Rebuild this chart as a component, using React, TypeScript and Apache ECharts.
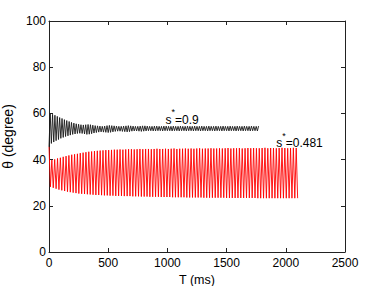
import React, { useEffect, useRef } from "react";
import * as echarts from "echarts";

// x-axis (T, ms) and y-axis (θ, degree) ticks
const xTicks = [0, 500, 1000, 1500, 2000, 2500];
const yTicks = [0, 20, 40, 60, 80, 100];

// s* = 0.9 (black): half-period sampling step (ms); troughs at even steps, peaks at odd steps
const blackStepMs = 10;
const blackTroughs = [
  45.5, 47.0, 47.6, 48.2, 48.7, 49.2, 49.6, 50.0, 50.3, 50.6,
  50.9, 51.1, 51.3, 51.4, 51.3, 51.1, 50.9, 51.0, 51.2, 51.5,
  51.7, 51.9, 52.0, 51.9, 51.8, 51.7, 51.8, 52.0, 52.2, 52.3,
  52.3, 52.2, 52.1, 52.0, 52.1, 52.3, 52.4, 52.4, 52.3, 52.2,
  52.3, 52.4, 52.5, 52.5, 52.4, 52.4, 52.5, 52.5, 52.4, 52.5,
  52.5, 52.5, 52.4, 52.5, 52.5, 52.4, 52.5, 52.5, 52.4, 52.5,
  52.5, 52.4, 52.5, 52.5, 52.4, 52.5, 52.5, 52.4, 52.5, 52.5,
  52.4, 52.5, 52.5, 52.4, 52.5, 52.5, 52.4, 52.5, 52.5, 52.4,
  52.5, 52.5, 52.4, 52.5, 52.5, 52.4, 52.5, 52.5, 52.4,
];
const blackPeaks = [
  60.0, 59.6, 59.2, 58.7, 58.2, 57.8, 57.3, 56.9, 56.5, 56.1,
  55.8, 55.5, 55.3, 55.1, 55.0, 55.1, 55.2, 55.1, 54.9, 54.7,
  54.6, 54.5, 54.4, 54.5, 54.7, 54.8, 54.7, 54.6, 54.5, 54.4,
  54.4, 54.5, 54.6, 54.7, 54.6, 54.5, 54.4, 54.4, 54.5, 54.6,
  54.6, 54.5, 54.4, 54.4, 54.5, 54.5, 54.4, 54.4, 54.5, 54.5,
  54.4, 54.4, 54.5, 54.4, 54.4, 54.5, 54.4, 54.4, 54.5, 54.4,
  54.4, 54.5, 54.4, 54.4, 54.5, 54.4, 54.4, 54.5, 54.4, 54.4,
  54.5, 54.4, 54.4, 54.5, 54.4, 54.4, 54.5, 54.4, 54.4, 54.5,
  54.4, 54.4, 54.5, 54.4, 54.4, 54.5, 54.4, 54.4, 54.5,
];

// s* = 0.481 (red): starting value at T=0, then troughs / peaks every half period
const redStepMs = 12;
const redStart = 45.5;
const redTroughs = [
  28.2, 27.8, 27.4, 27.0, 26.7, 26.4, 26.1, 25.9, 25.7, 25.5,
  25.3, 25.2, 25.1, 25.0, 24.9, 24.8, 24.7, 24.7, 24.6, 24.5,
  24.5, 24.4, 24.4, 24.3, 24.3, 24.3, 24.2, 24.2, 24.2, 24.1,
  24.1, 24.1, 24.0, 24.0, 24.0, 23.9, 23.9, 23.9, 23.9, 23.8,
  23.8, 23.8, 23.8, 23.7, 23.7, 23.7, 23.7, 23.7, 23.6, 23.6,
  23.6, 23.6, 23.6, 23.6, 23.5, 23.5, 23.5, 23.5, 23.5, 23.5,
  23.5, 23.5, 23.4, 23.4, 23.4, 23.4, 23.4, 23.4, 23.4, 23.4,
  23.4, 23.4, 23.4, 23.3, 23.3, 23.3, 23.3, 23.3, 23.3, 23.3,
  23.3, 23.3, 23.3, 23.3, 23.3, 23.3, 23.3, 23.3,
];
const redPeaks = [
  39.8, 40.1, 40.5, 40.8, 41.2, 41.5, 41.8, 42.1, 42.3, 42.5,
  42.8, 43.0, 43.2, 43.4, 43.5, 43.7, 43.8, 43.9, 44.0, 44.1,
  44.1, 44.2, 44.3, 44.3, 44.4, 44.3, 44.4, 44.5, 44.5, 44.4,
  44.5, 44.6, 44.5, 44.6, 44.6, 44.5, 44.6, 44.7, 44.6, 44.6,
  44.7, 44.6, 44.7, 44.8, 44.6, 44.7, 44.7, 44.8, 44.7, 44.8,
  44.7, 44.8, 44.9, 44.7, 44.8, 44.8, 44.9, 44.8, 44.8, 44.9,
  44.8, 44.9, 45.0, 44.8, 44.9, 44.9, 45.0, 44.8, 44.9, 45.0,
  44.9, 45.0, 44.9, 44.9, 45.0, 45.1, 44.9, 45.0, 45.0, 44.9,
  45.0, 45.1, 45.0, 44.9, 45.0, 45.1, 45.0,
];

// annotation labels and anchor (data coords)
const labelBlack = { value: "0.9", at: [984, 54.6] };
const labelRed = { value: "0.481", at: [1919, 44.5] };

const FONT = "'Liberation Sans', Arial, Helvetica, sans-serif";

function buildBlack(): number[][] {
  const out: number[][] = [];
  for (let k = 0; k < blackTroughs.length; k++) {
    out.push([2 * k * blackStepMs, blackTroughs[k]]);
    if (k < blackPeaks.length) out.push([(2 * k + 1) * blackStepMs, blackPeaks[k]]);
  }
  return out;
}

function buildRed(): number[][] {
  const out: number[][] = [[0, redStart]];
  for (let k = 0; k < redTroughs.length; k++) {
    out.push([(2 * k + 1) * redStepMs, redTroughs[k]]);
    if (k < redPeaks.length) out.push([(2 * k + 2) * redStepMs, redPeaks[k]]);
  }
  return out;
}

const rich = {
  s: { fontSize: 12, fontFamily: FONT, color: "#000", lineHeight: 18, verticalAlign: "bottom" },
  sup: { fontSize: 9, fontFamily: FONT, color: "#000", lineHeight: 18, verticalAlign: "top" },
  v: { fontSize: 12, fontFamily: FONT, color: "#000", lineHeight: 18, verticalAlign: "bottom" },
};

function mark(lbl: { value: string; at: number[] }) {
  return {
    symbol: "circle",
    symbolSize: 0,
    silent: true,
    itemStyle: { color: "rgba(0,0,0,0)" },
    data: [
      {
        coord: lbl.at,
        label: {
          show: true,
          position: [0, 0],
          align: "left",
          verticalAlign: "bottom",
          formatter: `{s|s}{sup|*}{v|=${lbl.value}}`,
          rich,
        },
      },
    ],
  };
}

export default function App() {
  const ref = useRef<HTMLDivElement>(null);
  useEffect(() => {
    document.body.style.margin = "0";
    const chart = echarts.init(ref.current!, null, { renderer: "svg" });
    const axisCommon = {
      type: "value",
      axisLine: { show: true, onZero: false, lineStyle: { color: "#222", width: 1 } },
      axisTick: { show: true, inside: true, length: 4, lineStyle: { color: "#222" } },
      splitLine: { show: false },
    };
    const plain = (v: number) => String(v);
    chart.setOption({
      animation: false,
      backgroundColor: "#fff",
      grid: { left: 49, right: 36, top: 21, bottom: 34, containLabel: false, outerBoundsMode: "none" },
      xAxis: [
        {
          ...axisCommon,
          position: "bottom",
          min: xTicks[0],
          max: xTicks[xTicks.length - 1],
          interval: xTicks[1] - xTicks[0],
          name: "T (ms)",
          nameLocation: "middle",
          nameGap: 13,
          nameTextStyle: { fontFamily: FONT, fontSize: 12.5, color: "#000" },
          axisLabel: { fontFamily: FONT, fontSize: 12, color: "#000", margin: 5, formatter: plain },
        },
        {
          ...axisCommon,
          position: "top",
          min: xTicks[0],
          max: xTicks[xTicks.length - 1],
          interval: xTicks[1] - xTicks[0],
          axisLabel: { show: false },
        },
      ],
      yAxis: [
        {
          ...axisCommon,
          position: "left",
          min: yTicks[0],
          max: yTicks[yTicks.length - 1],
          interval: yTicks[1] - yTicks[0],
          name: "θ (degree)",
          nameLocation: "middle",
          nameGap: 28,
          nameTextStyle: { fontFamily: FONT, fontSize: 14, color: "#000" },
          axisLabel: { fontFamily: FONT, fontSize: 12, color: "#000", margin: 3, formatter: plain },
        },
        {
          ...axisCommon,
          position: "right",
          min: yTicks[0],
          max: yTicks[yTicks.length - 1],
          interval: yTicks[1] - yTicks[0],
          axisLabel: { show: false },
        },
      ],
      series: [
        {
          type: "line",
          data: buildBlack(),
          showSymbol: false,
          symbol: "none",
          silent: true,
          lineStyle: { color: "#1a1a1a", width: 0.9 },
          markPoint: mark(labelBlack),
        },
        {
          type: "line",
          data: buildRed(),
          showSymbol: false,
          symbol: "none",
          silent: true,
          lineStyle: { color: "#ff0000", width: 0.9 },
          markPoint: mark(labelRed),
        },
      ],
    });
    return () => chart.dispose();
  }, []);
  return <div ref={ref} style={{ width: 381, height: 286 }} />;
}
